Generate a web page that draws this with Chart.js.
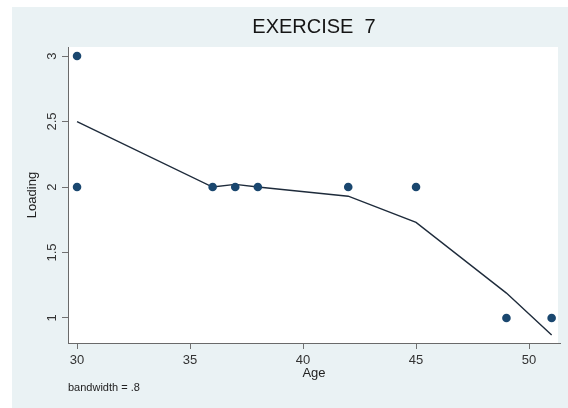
<!DOCTYPE html>
<html>
<head>
<meta charset="utf-8">
<script src="https://cdn.jsdelivr.net/npm/chart.js@4/dist/chart.umd.min.js"></script>
<style>
  html, body { margin: 0; padding: 0; background: #ffffff; }
  #wrap { width: 568px; height: 408px; position: relative; }
</style>
</head>
<body>
<div id="wrap"><canvas id="c" width="568" height="408"></canvas></div>
<script>
// Observed data (Age vs Loading)
const ageObs = [30, 30, 36, 37, 38, 42, 45, 49, 51];
const loadingObs = [3, 2, 2, 2, 2, 2, 2, 1, 1];
// Lowess smooth (bandwidth = .8)
const smoothAge = [30, 36, 37, 38, 42, 45, 49, 51];
const smoothLoading = [2.5, 2.0, 2.02, 2.0, 1.93, 1.73, 1.19, 0.87];
// Axis ticks
const xTicks = [30, 35, 40, 45, 50];
const yTicks = [1, 1.5, 2, 2.5, 3];

const FONT = "'Liberation Sans', Arial, Helvetica, sans-serif";

const bgPlugin = {
  id: 'bg',
  beforeDraw(chart) {
    const {ctx, chartArea} = chart;
    ctx.save();
    ctx.fillStyle = '#ffffff';
    ctx.fillRect(0, 0, chart.width, chart.height);
    ctx.fillStyle = '#eaf2f4';
    ctx.fillRect(12, 7, chart.width - 12, chart.height - 7);
    ctx.fillStyle = '#ffffff';
    ctx.fillRect(chartArea.left, chartArea.top, chartArea.right - chartArea.left - 2, chartArea.bottom - chartArea.top);
    ctx.restore();
  }
};

new Chart(document.getElementById('c'), {
  type: 'scatter',
  data: {
    datasets: [
      {
        label: 'Loading',
        data: ageObs.map((a, i) => ({x: a, y: loadingObs[i]})),
        pointRadius: 4.3,
        pointHoverRadius: 4.3,
        pointBackgroundColor: '#1a476f',
        pointBorderColor: '#1a476f',
        pointBorderWidth: 0,
        showLine: false
      },
      {
        label: 'lowess',
        data: smoothAge.map((a, i) => ({x: a, y: smoothLoading[i]})),
        showLine: true,
        pointRadius: 0,
        borderColor: '#1e2b3b',
        borderWidth: 1.4,
        tension: 0,
        fill: false
      }
    ]
  },
  options: {
    responsive: false,
    animation: false,
    layout: { padding: { left: 0, right: 8, top: 0, bottom: 0 } },
    plugins: {
      legend: { display: false },
      tooltip: { enabled: false },
      title: {
        display: true,
        text: 'EXERCISE  7',
        fullSize: false,
        color: '#151515',
        font: { family: FONT, size: 20, weight: 'normal', lineHeight: 1.2 },
        padding: { top: 15, bottom: 8 }
      },
      subtitle: {
        display: true,
        text: 'bandwidth = .8',
        position: 'bottom',
        align: 'start',
        fullSize: false,
        color: '#222222',
        font: { family: FONT, size: 11, weight: 'normal', lineHeight: 1.2 },
        padding: { top: 0, bottom: 13.8 }
      }
    },
    scales: {
      x: {
        type: 'linear',
        position: 'bottom',
        min: 29.6,
        max: 51.37,
        afterBuildTicks(s) { s.ticks = xTicks.map(v => ({value: v})); },
        afterFit(s) { s.height = 38; },
        ticks: {
          autoSkip: false,
          maxRotation: 0,
          minRotation: 0,
          padding: 3.5,
          color: '#333333',
          font: { family: FONT, size: 13 },
          callback: v => String(v)
        },
        grid: { display: true, drawOnChartArea: false, drawTicks: true, tickLength: 6, color: '#707070', lineWidth: 1 },
        border: { display: true, color: '#6a6a6a', width: 1 },
        title: {
          display: true,
          text: 'Age',
          color: '#222222',
          font: { family: FONT, size: 13 },
          padding: { top: 0, bottom: 0.2 }
        }
      },
      y: {
        type: 'linear',
        position: 'left',
        min: 0.809,
        max: 3.069,
        afterBuildTicks(s) { s.ticks = yTicks.map(v => ({value: v})); },
        afterFit(s) { s.width = 68; },
        ticks: {
          autoSkip: false,
          minRotation: 90,
          maxRotation: 90,
          crossAlign: 'center',
          padding: 1,
          color: '#333333',
          font: { family: FONT, size: 13 },
          callback: v => String(v)
        },
        grid: { display: true, drawOnChartArea: false, drawTicks: true, tickLength: 6, color: '#707070', lineWidth: 1 },
        border: { display: true, color: '#6a6a6a', width: 1 },
        title: {
          display: true,
          text: 'Loading',
          color: '#222222',
          font: { family: FONT, size: 13 },
          padding: { top: 24.2, bottom: 0 }
        }
      }
    }
  },
  plugins: [bgPlugin]
});
</script>
</body>
</html>
